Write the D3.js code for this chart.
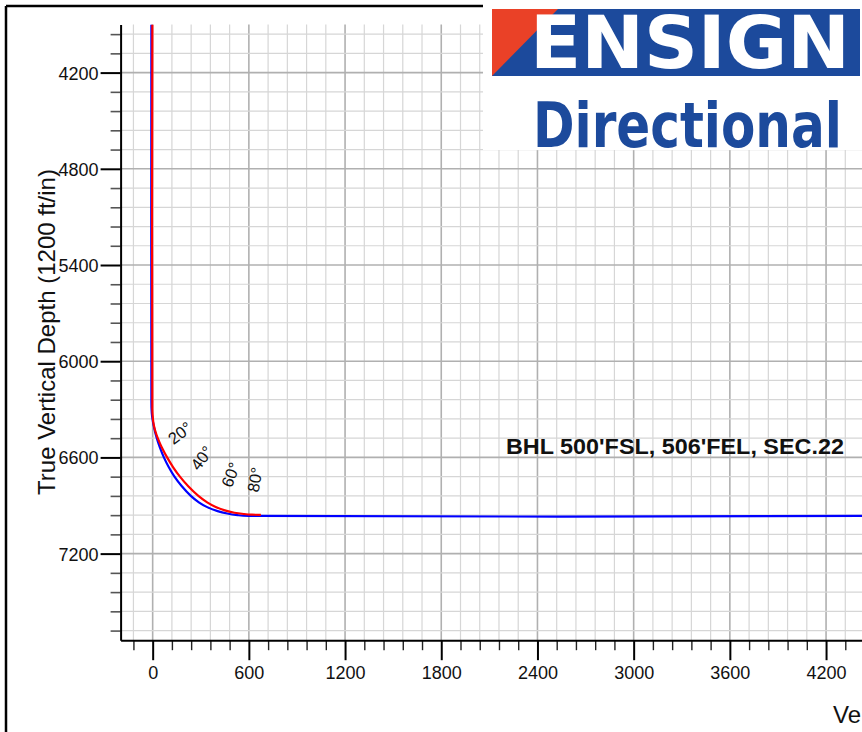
<!DOCTYPE html>
<html><head><meta charset="utf-8">
<script src="https://cdn.jsdelivr.net/npm/d3@7"></script>
<style>
body{margin:0;background:#fff}
svg{display:block}
</style>
</head><body>
<svg id="chart" width="862" height="732" font-family="Liberation Sans, Arial, Helvetica, sans-serif"></svg>
<script>
// ---- data ----
const xTickLabels = [0, 600, 1200, 1800, 2400, 3000, 3600, 4200];
const yTickLabels = [4200, 4800, 5400, 6000, 6600, 7200];

// plan (blue): vertical section (ft) and TVD (ft)
const planVS  = [-8, -8, -7, -4, 2, 10, 20, 32, 46, 70, 100, 136, 182, 238, 288, 340, 405, 465, 530, 600, 4500];
const planTVD = [3900, 6250, 6300, 6340, 6380, 6420, 6460, 6500, 6540, 6600, 6660, 6720, 6780, 6840, 6880, 6910, 6935, 6950, 6960, 6965, 6965];

// actual (red)
const actualVS  = [-2, -2, 0, 4, 12, 24, 40, 58, 90, 127, 170, 222, 285, 340, 390, 450, 510, 570, 620, 675];
const actualTVD = [3900, 6300, 6340, 6380, 6420, 6460, 6500, 6540, 6600, 6660, 6720, 6780, 6840, 6880, 6907, 6930, 6945, 6953, 6957, 6958];

const angleLabels = ["20°", "40°", "60°", "80°"];
const angleVS  = [170, 306, 487, 638];
const angleTVD = [6448, 6604, 6708, 6739];

const bhlLabel = "BHL 500'FSL, 506'FEL, SEC.22";
const yTitle = "True Vertical Depth (1200 ft/in)";
const xTitle = "Vertical Section at 90.00° (1200 ft/in)";
const logoTop = "ENSIGN";
const logoBottom = "Directional";

// ---- drawing ----
const svg = d3.select("#chart");
const W = 862, H = 732;
svg.append("rect").attr("width", W).attr("height", H).attr("fill", "#fff");

const plotLeft = 120.6, plotTop = 24.5, plotBottom = 640.2;
const x = d3.scaleLinear().domain([-200, 4500]).range([plotLeft, plotLeft + 4700 * 0.16033]);
const y = d3.scaleLinear().domain([3900, 7740]).range([plotTop, plotBottom]);

// outer frame
svg.append("line").attr("x1", 6).attr("y1", 6).attr("x2", 490).attr("y2", 6)
  .attr("stroke", "#000").attr("stroke-width", 2.5);
svg.append("line").attr("x1", 6).attr("y1", 6).attr("x2", 6).attr("y2", H)
  .attr("stroke", "#000").attr("stroke-width", 2.5);

// grid
const gx = d3.range(-120, 4500, 120);
const gy = d3.range(3960, 7740, 120);
const grid = svg.append("g");
grid.selectAll("line.v").data(gx).join("line").attr("class", "v")
  .attr("x1", d => x(d)).attr("x2", d => x(d)).attr("y1", plotTop).attr("y2", plotBottom)
  .attr("stroke", d => d % 600 === 0 ? "#b0b0b0" : "#d6d6d6")
  .attr("stroke-width", d => d % 600 === 0 ? 1.6 : 1.2);
grid.selectAll("line.h").data(gy).join("line").attr("class", "h")
  .attr("y1", d => y(d)).attr("y2", d => y(d)).attr("x1", plotLeft).attr("x2", W)
  .attr("stroke", d => d % 600 === 0 ? "#b0b0b0" : "#d6d6d6")
  .attr("stroke-width", d => d % 600 === 0 ? 1.6 : 1.2);

// clip
svg.append("clipPath").attr("id", "plotclip").append("rect")
  .attr("x", plotLeft).attr("y", plotTop).attr("width", W - plotLeft).attr("height", plotBottom - plotTop);

// lines
const line = d3.line().x(d => x(d[0])).y(d => y(d[1])).curve(d3.curveCatmullRom.alpha(0.5));
const plan = planVS.map((v, i) => [v, planTVD[i]]);
const actual = actualVS.map((v, i) => [v, actualTVD[i]]);
const lines = svg.append("g").attr("clip-path", "url(#plotclip)");
lines.append("path").attr("d", line(plan)).attr("fill", "none").attr("stroke", "#0000ff").attr("stroke-width", 2.2);
lines.append("path").attr("d", line(actual)).attr("fill", "none").attr("stroke", "#ff0000").attr("stroke-width", 2.2);

// axes
const yMinor = gy.filter(d => !yTickLabels.includes(d));
const xMinor = gx.filter(d => !xTickLabels.includes(d));

const yAxisMinor = svg.append("g").attr("transform", `translate(${plotLeft},0)`)
  .call(d3.axisLeft(y).tickValues(yMinor).tickSize(10).tickSizeOuter(0).tickFormat(""));
yAxisMinor.selectAll(".tick line").attr("stroke", "#555").attr("stroke-width", 1.6);
yAxisMinor.select(".domain").remove();

const yAxis = svg.append("g").attr("transform", `translate(${plotLeft},0)`)
  .call(d3.axisLeft(y).tickValues(yTickLabels).tickSize(20).tickSizeOuter(0).tickPadding(2).tickFormat(d3.format("d")));
yAxis.attr("font-family", "Liberation Sans, Arial, sans-serif").attr("font-size", 18);
yAxis.selectAll(".tick line").attr("stroke", "#000").attr("stroke-width", 2);
yAxis.selectAll(".tick text").attr("fill", "#111").attr("dy", "0.36em");
yAxis.select(".domain").attr("stroke", "#000").attr("stroke-width", 2);

const xAxisMinor = svg.append("g").attr("transform", `translate(0,${plotBottom})`)
  .call(d3.axisBottom(x).tickValues(xMinor).tickSize(10).tickSizeOuter(0).tickFormat(""));
xAxisMinor.selectAll(".tick line").attr("stroke", "#222").attr("stroke-width", 1.4);
xAxisMinor.select(".domain").remove();

const xAxis = svg.append("g").attr("transform", `translate(0,${plotBottom})`)
  .call(d3.axisBottom(x).tickValues(xTickLabels).tickSize(20).tickSizeOuter(0).tickPadding(6.3).tickFormat(d3.format("d")));
xAxis.attr("font-family", "Liberation Sans, Arial, sans-serif").attr("font-size", 18);
xAxis.selectAll(".tick line").attr("stroke", "#000").attr("stroke-width", 2);
xAxis.selectAll(".tick text").attr("fill", "#111");
xAxis.select(".domain").attr("stroke", "#000").attr("stroke-width", 2);

// axis titles
svg.append("text").attr("transform", "translate(55,332) rotate(-90)")
  .attr("text-anchor", "middle").attr("font-size", 24).attr("fill", "#111").text(yTitle);
svg.append("text").attr("x", 833).attr("y", 723).attr("font-size", 24).attr("fill", "#111").text(xTitle);

// angle labels
const rots = [-37, -53, -68, -80];
svg.append("g").selectAll("text").data(angleLabels).join("text")
  .attr("transform", (d, i) => `translate(${x(angleVS[i])},${y(angleTVD[i])}) rotate(${rots[i]})`)
  .attr("text-anchor", "middle").attr("dy", "0.35em")
  .attr("font-size", 16.5).attr("fill", "#111").text(d => d);

// text fitted to a width by horizontal scaling
function fitText(parent, str, x0, y0, width, attrs) {
  const t = parent.append("text").attr("x", 0).attr("y", 0).text(str);
  Object.entries(attrs).forEach(([k, v]) => t.attr(k, v));
  const natural = t.node().getComputedTextLength() || width;
  t.attr("transform", `translate(${x0},${y0}) scale(${width / natural},1)`);
  return t;
}

// BHL label
fitText(svg, bhlLabel, 506, 453.5, 338, {"font-size": 22, "font-weight": "bold", "fill": "#111"});

// logo
const logo = svg.append("g");
logo.append("rect").attr("x", 483).attr("y", 0).attr("width", W - 483).attr("height", 150).attr("fill", "#fff");
logo.append("rect").attr("x", 492).attr("y", 9).attr("width", 368).attr("height", 67).attr("fill", "#1c4a9c");
logo.append("polygon").attr("points", "492,9 558,9 492,76").attr("fill", "#ea4127");
fitText(logo, logoTop, 530, 68, 320, {"font-size": 72.5, "font-weight": "bold",
  "font-family": "DejaVu Sans, Liberation Sans, sans-serif", "fill": "#fff"});
fitText(logo, logoBottom, 533, 147, 309, {"font-size": 63, "font-weight": "bold",
  "font-family": "DejaVu Sans Condensed, Liberation Sans Narrow, Liberation Sans, sans-serif", "fill": "#1c4a9c"});
</script>
</body></html>
